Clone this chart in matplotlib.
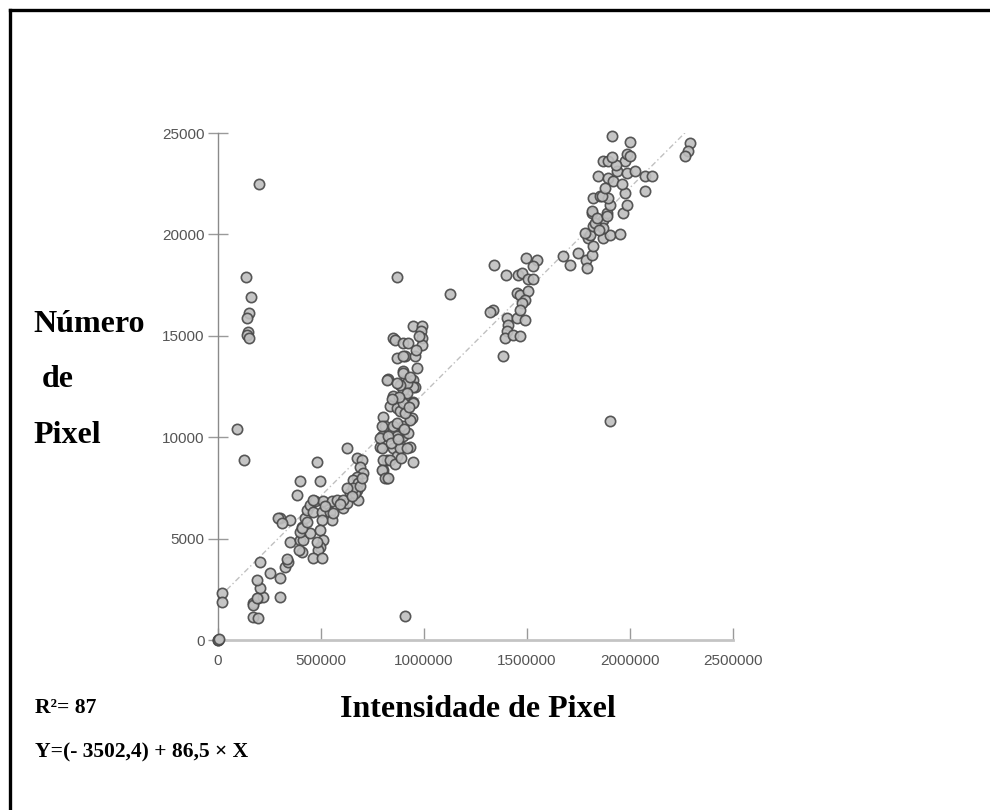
import matplotlib
matplotlib.use("Agg")
import matplotlib.pyplot as plt
from matplotlib.lines import Line2D
import numpy as np

# ---- data (thousands of intensity units, pixel counts) ----
low_x = [0, 0, 5, 18, 18, 91, 126, 197, 136, 160, 149, 139, 144, 139, 150,
         171, 196, 171, 196, 220, 204, 188, 168, 188,
         204, 252, 301, 301, 325, 341, 333,
         349, 301, 293, 349, 309, 385, 398, 495, 479,
         398, 406, 395, 414, 398, 406, 422, 447, 430, 447, 463, 409,
         471, 511, 552, 576, 608, 625, 641, 503, 544, 552, 503,
         495, 511, 495, 487, 463, 503, 479, 625,
         673, 698, 689, 705, 673, 657, 681, 673, 681, 665, 657, 625, 608, 560,
         906, 430, 460, 520, 590, 650, 690, 700]
low_y = [0, 0, 60, 2300, 1890, 10415, 8900, 22500, 17900, 16900, 16100, 15900, 15200, 15050, 14870,
         1150, 1070, 1810, 2060, 2140, 2550, 2960, 1730, 2060,
         3870, 3290, 3045, 2140, 3620, 3870, 3980,
         4850, 6010, 6010, 5920, 5790, 7140, 7860, 7860, 8800,
         4935, 4360, 4440, 4940, 5345, 5590, 6010, 5265, 6420, 6660, 6330, 5510,
         6830, 6830, 6830, 6910, 6500, 6750, 7240, 6330, 6330, 5920, 5920,
         5430, 4935, 4605, 4440, 4030, 4030, 4850, 9460,
         8970, 8885, 8555, 8230, 8060, 7900, 7735, 7405, 6910, 7240, 7490, 7490, 6910, 6250,
         1200, 5800, 6900, 6600, 6700, 7100, 7600, 8000]

mid_x = [948, 989, 984, 989, 989, 851, 859, 899, 924, 867, 908, 956, 964, 899, 827, 908,
         948, 956, 851, 908, 948, 835, 867, 802, 908, 940, 811, 851, 899, 795, 786, 851,
         892, 932, 819, 867, 802, 819, 948, 899, 899, 819, 795, 786, 795, 802, 795, 811,
         827, 835, 867, 883, 916, 932, 948, 948, 899, 916, 883, 851, 827, 883, 916, 899,
         908, 867, 869, 1128,
         840, 875, 860, 890, 920, 880, 930, 960, 975, 900, 845, 870, 905, 925]
mid_y = [15465, 15500, 15220, 14890, 14560, 14890, 14810, 14645, 14645, 13905, 13985, 13985,
         13410, 13245, 12870, 12750, 12830, 12500, 12010, 11930, 11760, 11515, 11440, 11020,
         11220, 10940, 10530, 10365, 10035, 10035, 9540, 9460, 9540, 9540, 8885, 9050, 8390,
         7980, 8800, 10530, 12340, 12830, 10530, 9955, 9460, 8885, 8390, 7980, 7980, 8885,
         10035, 9460, 9460, 10860, 11680, 12500, 13165, 12670, 12590, 10530, 10035, 11270,
         12180, 11680, 11190, 10700, 17900, 17060,
         9700, 9900, 8700, 8950, 10200, 12000, 12950, 14300, 15000, 14000, 11900, 12650,
         10400, 11500]

hi_x = [1340, 1398, 1495, 1547, 1530, 1458, 1474, 1506, 1530, 1450, 1466, 1506, 1490, 1474,
        1333, 1320, 1401, 1450, 1490, 1409, 1401, 1393, 1433, 1466, 1385, 1466,
        1676, 1709, 1749, 1786, 1790, 1814, 1797, 1822, 1806, 1870, 1903, 1951, 1822, 1814,
        1870, 1887, 1903, 1822, 1854, 1895, 1967, 1984, 1976, 2073, 1846, 1895, 1919, 1935,
        1984, 2024, 2073, 2105, 1870, 1895, 1976, 1984, 2000, 1911, 2000, 2291, 2283, 2267,
        1870, 1830, 1814, 1862, 1781, 1903,
        1840, 1880, 1930, 1960, 1850, 1890, 1915]
hi_y = [18510, 17980, 18840, 18720, 18460, 18020, 18100, 17800, 17800, 17110, 17030, 17190,
        16780, 16620, 16290, 16155, 15880, 15880, 15795, 15550, 15220, 14890, 15055, 15005,
        14020, 16290,
        18920, 18510, 19090, 18760, 18350, 19000, 19830, 19410, 19990, 19830, 19990, 20025,
        20400, 21060, 20730, 21060, 21470, 21800, 21880, 21800, 21060, 21470, 22050, 22130,
        22870, 22790, 22620, 23115, 23035, 23115, 22870, 22900, 23610, 23610, 23610, 23940,
        23855, 24840, 24550, 24520, 24100, 23890,
        20320, 20570, 21140, 21880, 20075, 10810,
        20800, 22300, 23400, 22500, 20200, 20900, 23800]

fit_slope = 0.01013      # pixel count per intensity unit
fit_intercept = 2045
fit_x_range = [42000, 2267000]

x_ticks = [0, 500000, 1000000, 1500000, 2000000, 2500000]
y_ticks = [0, 5000, 10000, 15000, 20000, 25000]

xs = np.array(low_x + mid_x + hi_x, dtype=float) * 1000
ys = np.array(low_y + mid_y + hi_y, dtype=float)

W, H = 990, 810
fig = plt.figure(figsize=(W / 100, H / 100), dpi=100)
fig.patch.set_facecolor("white")

ax = fig.add_axes([218 / W, (H - 640) / H, 515 / W, 507 / H])
ax.set_xlim(0, 2500000)
ax.set_ylim(0, 25000)

fx = np.array(fit_x_range, dtype=float)
ax.plot(fx, fit_intercept + fit_slope * fx, color="#c0c0c0", lw=1.0,
        dashes=[4, 2, 1, 2], zorder=1)

ax.scatter(xs, ys, s=55, facecolors=(0.75, 0.75, 0.75, 0.9),
           edgecolors=(0.28, 0.28, 0.28, 0.9), linewidths=1.2, zorder=3, clip_on=False)

for s in ("top", "right"):
    ax.spines[s].set_visible(False)
ax.spines["left"].set_color("#8a8a8a")
ax.spines["left"].set_linewidth(1.0)
ax.spines["bottom"].set_color("#c4c4c4")
ax.spines["bottom"].set_linewidth(2.0)

ax.set_xticks(x_ticks)
ax.set_xticklabels([str(t) for t in x_ticks])
ax.set_yticks(y_ticks)
ax.set_yticklabels([str(t) for t in y_ticks])
ax.tick_params(axis="y", direction="inout", length=15, width=1, color="#9a9a9a",
               pad=2, labelsize=11, labelcolor="#555555")
ax.tick_params(axis="x", direction="in", length=9, width=1, color="#9a9a9a",
               pad=10, labelsize=11, labelcolor="#555555")
for lab in ax.get_xticklabels() + ax.get_yticklabels():
    lab.set_fontfamily("Liberation Sans")

serif = "Liberation Serif"

def ftext(x, y, s, size, ha="left"):
    fig.text(x / W, 1 - y / H, s, fontsize=size, fontweight="bold", family=serif,
             ha=ha, va="baseline", color="black")

ftext(33, 332, "Número", 23)
ftext(42, 387, "de", 23)
ftext(33, 443, "Pixel", 23)
ftext(478, 717, "Intensidade de Pixel", 23, ha="center")
ftext(35, 713, "R²= 87", 15.5)
ftext(35, 757, "Y=(- 3502,4) + 86,5 × X", 15.5)

# frame (top and left edges)
fig.add_artist(Line2D([9.5 / W, 1.0], [1 - 9.5 / H, 1 - 9.5 / H], color="black",
                      lw=2.4, transform=fig.transFigure, solid_capstyle="projecting"))
fig.add_artist(Line2D([9.5 / W, 9.5 / W], [1 - 9.5 / H, 0.0], color="black",
                      lw=2.4, transform=fig.transFigure, solid_capstyle="projecting"))

fig.savefig("out.png", dpi=100)
